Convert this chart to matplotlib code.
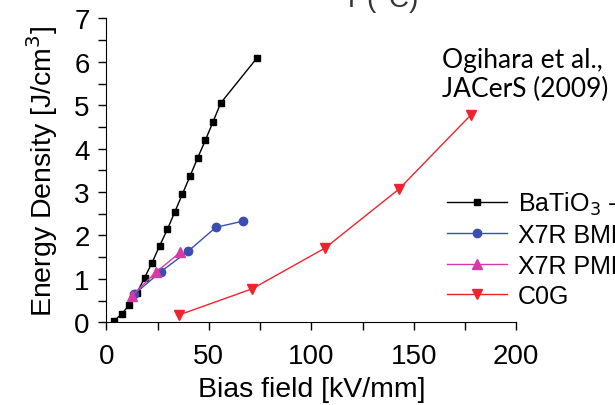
import matplotlib
matplotlib.use('Agg')
import matplotlib.pyplot as plt
from matplotlib.ticker import MultipleLocator

plt.rcParams['font.family'] = ['Liberation Sans', 'DejaVu Sans']

# BaTiO3-based
bt_field = [3.9, 7.5, 11.2, 15.0, 18.7, 22.3, 26.0, 29.8, 33.5, 37.1, 40.8, 44.6, 48.3, 52.0, 55.8, 73.5]
bt_energy = [0.04, 0.19, 0.40, 0.68, 1.03, 1.37, 1.76, 2.14, 2.55, 2.95, 3.36, 3.79, 4.19, 4.61, 5.05, 6.09]
# X7R BME
bme_field = [13.7, 26.7, 40.0, 53.5, 66.7]
bme_energy = [0.65, 1.17, 1.64, 2.19, 2.33]
# X7R PME
pme_field = [12.4, 24.2, 36.0]
pme_energy = [0.61, 1.15, 1.61]
# C0G
c0g_field = [35.5, 71.1, 106.7, 142.8, 177.9]
c0g_energy = [0.17, 0.77, 1.71, 3.07, 4.78]

fig = plt.figure(figsize=(6.15, 4.06), dpi=100)
ax = fig.add_axes([0.1728, 0.2037, 0.6667, 0.7483])

ax.plot(bt_field, bt_energy, '-s', color='black', lw=1, ms=5, label='BaTiO$_3$ - based')
ax.plot(bme_field, bme_energy, '-o', color='#3b4db0', lw=1, ms=6, label='X7R BME')
ax.plot(pme_field, pme_energy, '-^', color='#d63aa8', lw=1, ms=6.5, label='X7R PME')
ax.plot(c0g_field, c0g_energy, '-v', color='#f0232d', lw=1, ms=6.5, label='C0G')

ax.set_xlim(0, 200)
ax.set_ylim(0, 7)
ax.xaxis.set_major_locator(MultipleLocator(50))
ax.xaxis.set_minor_locator(MultipleLocator(25))
ax.yaxis.set_major_locator(MultipleLocator(1))
ax.yaxis.set_minor_locator(MultipleLocator(0.5))
ax.spines['top'].set_visible(False)
ax.spines['right'].set_visible(False)
ax.tick_params(which='both', direction='out', length=6, width=1)
ax.tick_params(axis='y', labelsize=20, pad=6)
ax.tick_params(axis='x', labelsize=20, pad=9)
ax.set_xlabel('Bias field [kV/mm]', fontsize=20.5, labelpad=5)
ax.set_ylabel('Energy Density [J/cm$^3$]', fontsize=20.5, labelpad=10)

leg = ax.legend(loc='upper left', bbox_to_anchor=(0.83, 0.437), frameon=False, fontsize=18,
                handlelength=2.4, labelspacing=0.26, handletextpad=0.45, borderaxespad=0,
                borderpad=0)

fig.text(0.718, 0.883, 'Ogihara et al.,\nJACerS (2009)', fontsize=19, family=['Lato', 'DejaVu Sans'],
         linespacing=1.2, va='top', ha='left')
fig.text(0.618, 1.0, 'T ($^o$C)', fontsize=20, color='#333333', ha='center', va='center')

fig.savefig('out.png', dpi=100)
